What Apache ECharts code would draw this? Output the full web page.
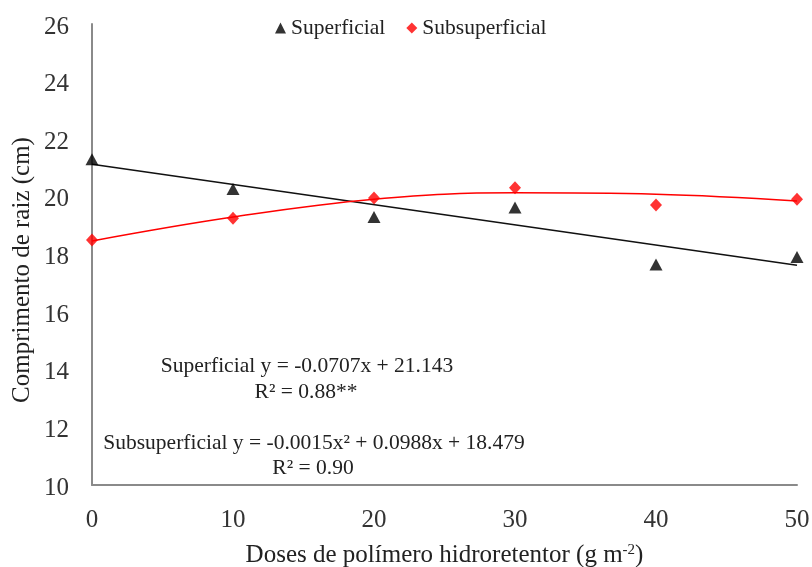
<!DOCTYPE html>
<html>
<head>
<meta charset="utf-8">
<script src="https://cdn.jsdelivr.net/npm/echarts@6/dist/echarts.min.js"></script>
<style>html,body{margin:0;padding:0;background:#fff}#c{width:812px;height:567px}</style>
</head>
<body>
<div id="c"></div>
<script>
var doses = [0, 10, 20, 30, 40, 50];
var superficial = [21.31, 20.27, 19.30, 19.63, 17.65, 17.91];
var subsuperficial = [18.50, 19.26, 19.96, 20.32, 19.72, 19.92];
var trendSupX = [0, 50];
var trendSupY = [21.13, 17.63];
var trendSubX = [0, 10, 20, 30, 40, 50];
var trendSubY = [18.47, 19.30, 19.92, 20.14, 20.09, 19.86];
var yTicks = [10, 12, 14, 16, 18, 20, 22, 24, 26];
var xTicks = [0, 10, 20, 30, 40, 50];
var eqSup = 'Superficial y = -0.0707x + 21.143';
var r2Sup = 'R² = 0.88**';
var eqSub = 'Subsuperficial y = -0.0015x² + 0.0988x + 18.479';
var r2Sub = 'R² = 0.90';
var yTitle = 'Comprimento de raiz (cm)';

function pairs(xs, ys){ return xs.map(function(x,i){ return [x, ys[i]]; }); }
var F = "'Liberation Serif', 'Times New Roman', serif";
var chart = echarts.init(document.getElementById('c'));
chart.setOption({
  animation: false,
  backgroundColor: '#fff',
  grid: { left: 92, right: 15, top: 24, bottom: 82, containLabel: false, outerBoundsMode: 'none' },
  legend: {
    data: ['Superficial', 'Subsuperficial'],
    left: 275, top: 17, padding: 0,
    itemWidth: 11, itemHeight: 11, itemGap: 21,
    textStyle: { fontFamily: F, fontSize: 21.5, color: '#222' }
  },
  xAxis: {
    type: 'value', min: xTicks[0], max: xTicks[xTicks.length-1], interval: 10,
    name: '{a|Doses de polímero hidroretentor (g m}{s|-2}{a|)}',
    nameLocation: 'middle', nameGap: 58,
    nameTextStyle: { rich: { a: { fontFamily: F, fontSize: 25, color: '#222' }, s: { fontFamily: F, fontSize: 15, color: '#222', padding: [0,0,10,0] } } },
    axisLine: { lineStyle: { color: '#8a8a8a', width: 2 } },
    axisTick: { show: false },
    splitLine: { show: false },
    axisLabel: { fontFamily: F, fontSize: 25, color: '#333', margin: 23 }
  },
  yAxis: {
    type: 'value', min: yTicks[0], max: yTicks[yTicks.length-1], interval: 2,
    axisLine: { show: true, lineStyle: { color: '#8a8a8a', width: 2 } },
    axisTick: { show: false },
    splitLine: { show: false },
    axisLabel: {
      margin: 23,
      formatter: function (v) { return '{v|' + v + '}'; },
      rich: { v: { fontFamily: F, fontSize: 25, color: '#333', padding: [6, 0, 0, 0] } }
    }
  },
  series: [
    { name: 'trendSup', type: 'line', data: pairs(trendSupX, trendSupY), symbol: 'none', lineStyle: { color: '#111', width: 1.5 }, silent: true, z: 1 },
    { name: 'trendSub', type: 'line', data: pairs(trendSubX, trendSubY), smooth: 0.4, symbol: 'none', lineStyle: { color: '#ff0000', width: 1.5 }, silent: true, z: 1 },
    { name: 'Superficial', type: 'scatter', data: pairs(doses, superficial), symbol: 'triangle', symbolSize: [13, 12], itemStyle: { color: '#000' }, z: 3 },
    { name: 'Subsuperficial', type: 'scatter', data: pairs(doses, subsuperficial), symbol: 'diamond', symbolSize: [12, 13], itemStyle: { color: '#ff0000' }, z: 3 }
  ],
  graphic: [
    { type: 'text', x: 22, y: 270, rotation: Math.PI / 2, style: { text: yTitle, font: '25px ' + F, fill: '#222', x: 0, y: 0, textAlign: 'center', textVerticalAlign: 'middle' } },
    { type: 'text', x: 307, y: 366, style: { text: eqSup, font: '21.5px ' + F, fill: '#222', x: 0, y: 0, textAlign: 'center', textVerticalAlign: 'middle' } },
    { type: 'text', x: 306, y: 392, style: { text: r2Sup, font: '21.5px ' + F, fill: '#222', x: 0, y: 0, textAlign: 'center', textVerticalAlign: 'middle' } },
    { type: 'text', x: 314, y: 443, style: { text: eqSub, font: '21.5px ' + F, fill: '#222', x: 0, y: 0, textAlign: 'center', textVerticalAlign: 'middle' } },
    { type: 'text', x: 313, y: 468, style: { text: r2Sub, font: '21.5px ' + F, fill: '#222', x: 0, y: 0, textAlign: 'center', textVerticalAlign: 'middle' } }
  ]
});
</script>
</body>
</html>
